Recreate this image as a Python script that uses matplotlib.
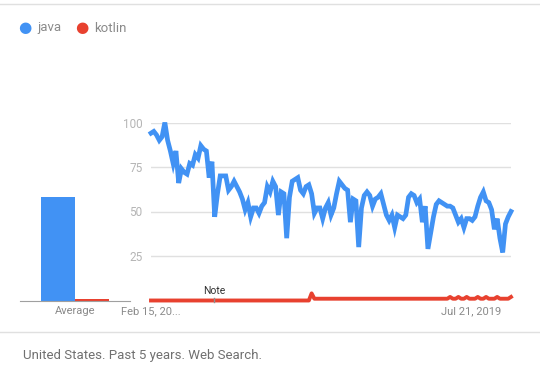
import matplotlib.pyplot as plt
import pandas as pd

plt.rcParams["font.family"] = ["Roboto", "DejaVu Sans"]

# Google Trends, interest over time (biweekly readings), United States, past 5 years
start_date = "2015-02-15"
step = "14D"

java = [
    94, 95, 93, 90, 92, 100, 90, 84, 77, 84,
    66, 74, 72, 71, 77, 76, 82, 80, 87, 85,
    84, 69, 78, 47, 60, 70, 70, 70, 62, 64,
    67, 64, 61, 57, 51, 55, 47, 52, 52, 49,
    53, 55, 64, 61, 67, 64, 48, 61, 60, 35,
    58, 67, 68, 69, 62, 60, 64, 65, 60, 49,
    52, 52, 46, 52, 55, 48, 52, 60, 67, 65,
    63, 62, 44, 57, 56, 30, 52, 59, 61, 59,
    53, 57, 58, 60, 54, 48, 45, 48, 41, 48,
    47, 46, 48, 58, 60, 59, 55, 57, 44, 53,
    29, 38, 47, 54, 56, 55, 54, 53, 53, 52,
    48, 44, 46, 41, 46, 46, 45, 47, 53, 58,
    61, 56, 55, 51, 40, 46, 35, 27, 43, 47,
    50,
]

kotlin = [0] * 58 + [4] + [1] * 49 + [
    2, 1, 1, 2, 1, 1, 2, 1, 1, 1, 2, 1, 1, 2, 1, 1, 1, 2, 1, 1, 1, 1, 2,
]

series_names = ["java", "kotlin"]
averages = [58, 1]
note_date = "2016-01-01"
tick_dates = ["2015-02-15", "2019-07-21"]
tick_labels = ["Feb 15, 20...", "Jul 21, 2019"]
y_ticks = [25, 50, 75, 100]
footer = "United States. Past 5 years. Web Search."

blue = "#4192F4"
red = "#E8412F"
grid_c = "#E0E0E0"
tick_c = "#B5B5B5"
label_c = "#8A8A8A"

dates = pd.date_range(start_date, periods=len(java), freq=step)

fig = plt.figure(figsize=(5.4, 3.76), dpi=100)

# separator lines at the top and above the footer
fig.add_artist(plt.Line2D([0, 1], [1 - 4 / 376, 1 - 4 / 376], color=grid_c, lw=1))
fig.add_artist(plt.Line2D([0, 1], [1 - 332 / 376, 1 - 332 / 376], color=grid_c, lw=1))

# legend
fig.text(25 / 540, 1 - 28 / 376, "\u25CF", color=blue, fontsize=11, ha="center", va="center")
fig.text(37 / 540, 1 - 28 / 376, series_names[0], color=label_c, fontsize=9.5, va="center")
fig.text(82 / 540, 1 - 28 / 376, "\u25CF", color=red, fontsize=11, ha="center", va="center")
fig.text(94 / 540, 1 - 28 / 376, series_names[1], color=label_c, fontsize=9.5, va="center")

# footer
fig.text(23 / 540, 1 - 356 / 376, footer, color="#707070", fontsize=9.5, va="center")

bottom = 1 - 300.5 / 376
height = 178 / 376

# averages panel
ax0 = fig.add_axes([20 / 540, bottom, 110 / 540, height])
ax0.bar([0, 1], averages, width=1, color=[blue, red])
ax0.set_xlim(-1.118, 2.118)
ax0.set_ylim(0, 100)
for s in ["top", "right", "left"]:
    ax0.spines[s].set_visible(False)
ax0.spines["bottom"].set_color("#A0A0A0")
ax0.set_yticks([])
ax0.set_xticks([0.5])
ax0.set_xticklabels(["Average"])
ax0.tick_params(axis="x", length=0, pad=4, labelsize=8, labelcolor=label_c)

# main time series panel
ax = fig.add_axes([151 / 540, bottom, 360 / 540, height])
ax.plot(dates, java, color=blue, lw=3.4, solid_joinstyle="miter", clip_on=False, zorder=3)
ax.plot(dates, kotlin, color=red, lw=2.8, clip_on=False, zorder=3)
ax.set_xlim(dates[0], dates[-1])
ax.set_ylim(0, 100)
for s in ax.spines.values():
    s.set_visible(False)
ax.set_yticks(y_ticks)
ax.yaxis.grid(True, color=grid_c, lw=1)
ax.set_axisbelow(True)
ax.tick_params(axis="y", length=0, pad=6, labelsize=8.5, labelcolor=tick_c)
ax.set_xticks(pd.to_datetime(tick_dates))
ax.set_xticklabels(tick_labels)
ax.tick_params(axis="x", length=0, pad=4, labelsize=8, labelcolor=label_c)

# note marker
nd = pd.Timestamp(note_date)
ax.plot([nd, nd], [-1, 1.5], color="#909090", lw=1, clip_on=False, zorder=4)
ax.text(nd, 2.5, "Note", ha="center", va="bottom", fontsize=7.5, color="#333333")

fig.savefig("out.png", dpi=100)
